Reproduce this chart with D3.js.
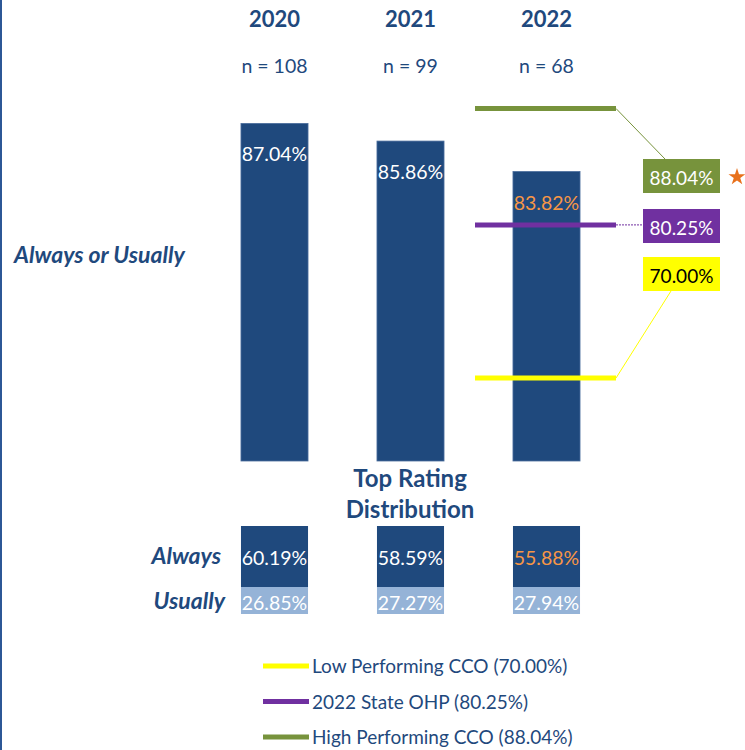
<!DOCTYPE html>
<html>
<head>
<meta charset="utf-8">
<script src="https://cdn.jsdelivr.net/npm/d3@7"></script>
<style>
  body { margin: 0; background: #fff; }
  svg { display: block; font-family: Lato, "Open Sans", sans-serif; }
</style>
</head>
<body>
<div id="chart"></div>
<script>
// data
const years = ["2020", "2021", "2022"];
const sampleSizes = [108, 99, 68];
const alwaysOrUsually = [87.04, 85.86, 83.82];
const always = [60.19, 58.59, 55.88];
const usually = [26.85, 27.27, 27.94];
// 2022 flagged as significantly different (orange label)
const flagged = [false, false, true];

const benchmarkNames = ["Low Performing CCO", "2022 State OHP", "High Performing CCO"];
const benchmarkValues = [70.00, 80.25, 88.04];
const benchmarkColors = ["#FFFF00", "#7030A0", "#77933C"];

const W = 745, H = 750;
const navy = "#1F497D";
const orange = "#F79646";

const svg = d3.select("#chart").append("svg")
  .attr("width", W)
  .attr("height", H);

// left border
svg.append("rect").attr("x", 0).attr("y", 0).attr("width", 2).attr("height", H).attr("fill", "#2C5796");

const x = d3.scaleBand()
  .domain(years)
  .range([206.5, 614.5])
  .paddingInner(0.507)
  .paddingOuter(0.2535);

const y = d3.scaleLinear()
  .domain([64.45, 88.04])
  .range([461, 108.5]);

// year headers
svg.selectAll(".year")
  .data(years)
  .join("text")
  .attr("x", d => x(d) + x.bandwidth() / 2)
  .attr("y", 27)
  .attr("text-anchor", "middle")
  .attr("fill", navy)
  .style("font-weight", "bold")
  .style("font-size", "22px")
  .text(d => d);

svg.selectAll(".n")
  .data(sampleSizes)
  .join("text")
  .attr("x", (d, i) => x(years[i]) + x.bandwidth() / 2)
  .attr("y", 73)
  .attr("text-anchor", "middle")
  .attr("fill", navy)
  .style("font-size", "19.5px")
  .text(d => `n = ${d}`);

// main bars
svg.selectAll(".bar")
  .data(alwaysOrUsually)
  .join("rect")
  .attr("x", (d, i) => x(years[i]))
  .attr("y", d => y(d))
  .attr("width", x.bandwidth())
  .attr("height", d => y.range()[0] - y(d))
  .attr("fill", navy)
  .attr("stroke", "#4A6D9C")
  .attr("stroke-width", 0.8);

svg.selectAll(".barlabel")
  .data(alwaysOrUsually)
  .join("text")
  .attr("x", (d, i) => x(years[i]) + x.bandwidth() / 2)
  .attr("y", d => y(d) + 38)
  .attr("text-anchor", "middle")
  .attr("fill", (d, i) => flagged[i] ? orange : "#fff")
  .style("font-size", "19.5px")
  .text(d => d.toFixed(2) + "%");

// benchmark lines
const lineX0 = 475, lineX1 = 616;
const boxX = 643, boxW = 77, boxH = 34;
const boxTops = [257, 209, 159];

benchmarkValues.forEach((v, i) => {
  const ly = y(v);
  svg.append("line")
    .attr("x1", lineX0).attr("x2", lineX1)
    .attr("y1", ly).attr("y2", ly)
    .attr("stroke", benchmarkColors[i])
    .attr("stroke-width", 5);

  // connector to label box
  let cx, cy;
  if (i === 0) { cx = 671; cy = boxTops[i] + boxH; }
  else if (i === 1) { cx = boxX; cy = ly; }
  else { cx = 665; cy = boxTops[i]; }
  svg.append("line")
    .attr("x1", lineX1).attr("y1", ly)
    .attr("x2", cx).attr("y2", cy)
    .attr("stroke", benchmarkColors[i])
    .attr("stroke-width", 1)
    .attr("stroke-dasharray", i === 1 ? "2,1" : null);

  svg.append("rect")
    .attr("x", boxX).attr("y", boxTops[i])
    .attr("width", boxW).attr("height", boxH)
    .attr("fill", benchmarkColors[i]);

  svg.append("text")
    .attr("x", boxX + boxW / 2)
    .attr("y", boxTops[i] + 26)
    .attr("text-anchor", "middle")
    .attr("fill", i === 0 ? "#000" : "#fff")
    .style("font-size", "19px")
    .text(v.toFixed(2) + "%");
});

// star next to high performing box
svg.append("path")
  .attr("d", d3.symbol().type(d3.symbolStar).size(90))
  .attr("transform", `translate(737,177)`)
  .attr("fill", "#E8711C");

// row labels
svg.append("text")
  .attr("x", 14).attr("y", 263)
  .attr("fill", navy)
  .style("font-weight", "bold").style("font-style", "italic")
  .style("font-size", "23px")
  .text("Always or Usually");

svg.append("text")
  .attr("x", 410).attr("y", 487)
  .attr("text-anchor", "middle")
  .attr("fill", navy)
  .style("font-weight", "bold")
  .style("font-size", "24px")
  .text("Top Rating");
svg.append("text")
  .attr("x", 410).attr("y", 518)
  .attr("text-anchor", "middle")
  .attr("fill", navy)
  .style("font-weight", "bold")
  .style("font-size", "24px")
  .text("Distribution");

// distribution rows
const rows = [
  { label: "Always", values: always, top: 526, h: 61, fill: navy, base: 565 },
  { label: "Usually", values: usually, top: 587, h: 27, fill: "#95B3D7", base: 610 }
];

rows.forEach((r, ri) => {
  svg.append("text")
    .attr("x", ri === 0 ? 221 : 225).attr("y", r.base - 1)
    .attr("text-anchor", "end")
    .attr("fill", navy)
    .style("font-weight", "bold").style("font-style", "italic")
    .style("font-size", "23px")
    .text(r.label);

  svg.selectAll(".row" + ri)
    .data(r.values)
    .join("rect")
    .attr("x", (d, i) => x(years[i]))
    .attr("y", r.top)
    .attr("width", x.bandwidth())
    .attr("height", r.h)
    .attr("fill", r.fill);

  svg.selectAll(".rowlabel" + ri)
    .data(r.values)
    .join("text")
    .attr("x", (d, i) => x(years[i]) + x.bandwidth() / 2)
    .attr("y", r.base)
    .attr("text-anchor", "middle")
    .attr("fill", (d, i) => ri === 0 && flagged[i] ? orange : "#fff")
    .style("font-size", "19.5px")
    .text(d => d.toFixed(2) + "%");
});

// legend
const legend = svg.append("g").attr("transform", "translate(263,666)");
benchmarkNames.forEach((name, i) => {
  const g = legend.append("g").attr("transform", `translate(0,${i * 35.5})`);
  g.append("line")
    .attr("x1", 0).attr("x2", 46)
    .attr("stroke", benchmarkColors[i])
    .attr("stroke-width", 5);
  g.append("text")
    .attr("x", 49).attr("y", 7)
    .attr("fill", navy)
    .style("font-size", "19px")
    .text(`${name} (${benchmarkValues[i].toFixed(2)}%)`);
});
</script>
</body>
</html>
